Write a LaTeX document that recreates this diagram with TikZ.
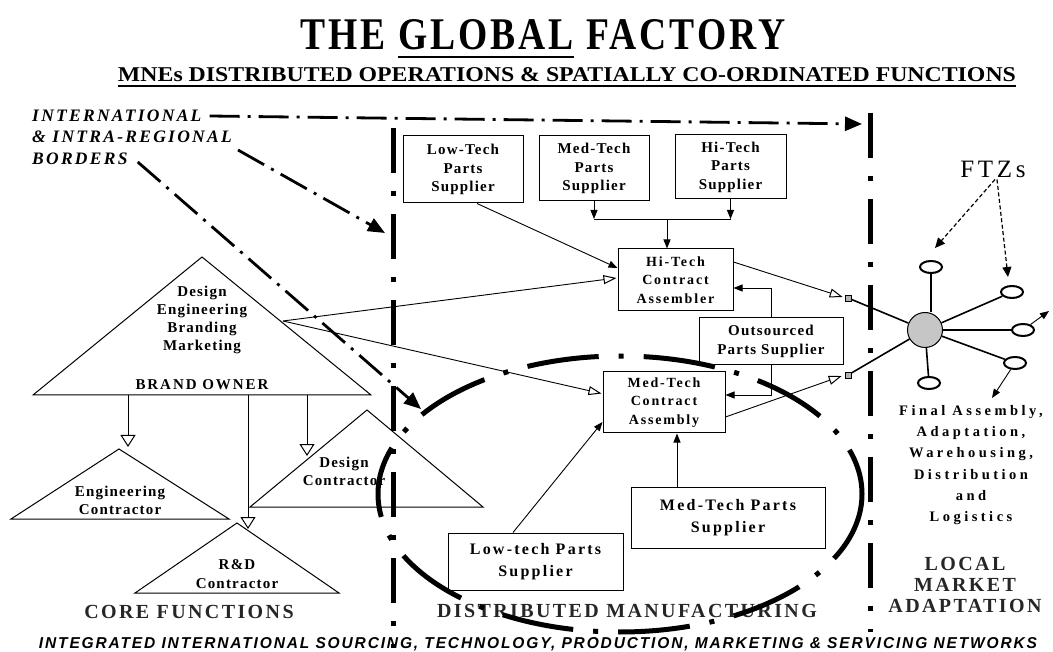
\documentclass[tikz,border=0pt]{standalone}
\usepackage{fontspec}
\setmainfont{Liberation Serif}
\newfontfamily\bxfont{Liberation Serif}[LetterSpace=8]
\newfontfamily\bxmfont{Liberation Serif}[LetterSpace=13]
\newfontfamily\bxLfont{Liberation Serif}[LetterSpace=14]
\newfontfamily\bxwidefont{Liberation Serif}[LetterSpace=24]
\newfontfamily\regfont{Liberation Serif}[LetterSpace=12]
\newfontfamily\itlfont{Liberation Serif}[LetterSpace=13]
\newfontfamily\titlefont{Liberation Serif}[LetterSpace=8]
\newfontfamily\ftzfont{Liberation Serif}[LetterSpace=15]
\newfontfamily\sansifont{Liberation Sans}[LetterSpace=12]
\usetikzlibrary{arrows.meta,shapes.geometric,calc}
\tikzset{
  pbox/.style={draw,line width=1pt,fill=white,align=center,inner sep=0pt,font=\bxfont\bfseries\fontsize{15}{18.5}\selectfont},
  pboxM/.style={pbox,font=\bxmfont\bfseries\fontsize{14}{18.3}\selectfont},
  pboxL/.style={pbox,font=\bxLfont\bfseries\fontsize{16}{22}\selectfont},
  tritext/.style={align=center,inner sep=0pt,font=\bxfont\bfseries\fontsize{15}{18.2}\selectfont},
  tri/.style={line width=1pt,line join=miter},
  border/.style={line width=5pt,dash pattern=on 45pt off 18pt on 5pt off 18pt},
  dd/.style={line width=2.8pt,dash pattern=on 30pt off 8pt on 3pt off 8pt},
  ddarrow/.style={dd,-{Triangle[length=17pt,width=14pt]}},
  conn/.style={line width=0.9pt,-{Triangle[length=9pt,width=7pt]}},
  oconn/.style={line width=0.9pt,-{Triangle[open,length=13pt,width=9pt,line width=1pt]}},
  bigoarrow/.style={line width=1pt,-{Triangle[open,length=12pt,width=15pt,line width=1pt]}},
  lolly/.style={ellipse,draw,line width=2pt,fill=white,minimum width=22pt,minimum height=12pt,inner sep=0pt},
  spoke/.style={line width=1.6pt},
  sq/.style={draw,line width=0.6pt,fill=gray!60,minimum size=6pt,inner sep=0pt},
  region/.style={inner sep=0pt,text=black!85,font=\regfont\bfseries\fontsize{20}{21}\selectfont,align=center},
  ellipseline/.style={line width=5pt,dash pattern=on 72pt off 20pt on 5pt off 20pt},
  bordlab/.style={anchor=base west,inner sep=0,font=\itlfont\bfseries\itshape\fontsize{17.5}{19}\selectfont}
}
\begin{document}
\begin{tikzpicture}[x=1pt,y=-1pt]
\useasboundingbox (0,0) rectangle (1053,652);

% Titles
\node[anchor=base,inner sep=0] (title) at (543,50) {\resizebox{485pt}{30pt}{\titlefont\bfseries THE \underline{GLOBAL} FACTORY}};
\node[anchor=base,inner sep=0] (sub) at (567,82) {\resizebox{898pt}{14pt}{\bfseries MNEs DISTRIBUTED OPERATIONS \& SPATIALLY CO-ORDINATED FUNCTIONS}};
\draw[line width=2pt] ($(sub.base west)+(0,4)$) -- ($(sub.base east)+(0,4)$);

% Borders labels
\node[bordlab] (lab1) at (32,122) {INTERNATIONAL};
\node[bordlab] (lab2) at (32,143) {\& INTRA-REGIONAL};
\node[bordlab] (lab3) at (32,165) {BORDERS};

% vertical borders
\coordinate (bl1) at (393,128);
\coordinate (bl2) at (393,648);
\coordinate (br1) at (870,113);
\coordinate (br2) at (870,632);
\draw[border] (bl1) -- (bl2);
\draw[border] (br1) -- (br2);

% Brand owner triangles
\draw[tri] (33,395) -- (371,395) -- (202,257) -- cycle;
\draw[tri] (11,519) -- (229,519) -- (119,449) -- cycle;
\draw[tri] (135,593) -- (339,593) -- (237,523) -- cycle;
\draw[tri] (250,507) -- (483,507) -- (367,410) -- cycle;
\node[tritext] (bo) at (202,320) {Design\\Engineering\\Branding\\Marketing};
\node[tritext,font=\bxmfont\bfseries\fontsize{15}{18}\selectfont] (bown) at (202,385) {BRAND OWNER};
\node[tritext] (eng) at (120,500) {Engineering\\Contractor};
\node[tritext] (rd) at (237,574) {R\&D\\Contractor};
\node[tritext] (des) at (344,471) {Design\\Contractor};

\coordinate (a1s) at (128,395); \coordinate (a1e) at (128,447);
\coordinate (a2s) at (248,395); \coordinate (a2e) at (248,529);
\coordinate (a3s) at (307,395); \coordinate (a3e) at (307,456);
\draw[bigoarrow] (a1s) -- (a1e);
\draw[bigoarrow] (a2s) -- (a2e);
\draw[bigoarrow] (a3s) -- (a3e);

% Boxes
\node[pbox,minimum width=120pt,minimum height=67pt] (ltps) at (463,169.5) {Low-Tech\\Parts\\Supplier};
\node[pbox,minimum width=110pt,minimum height=65pt] (mtps) at (594,168.5) {Med-Tech\\Parts\\Supplier};
\node[pbox,minimum width=111pt,minimum height=64pt] (htps) at (730.5,167) {Hi-Tech\\Parts\\Supplier};
\node[pboxM,minimum width=115pt,minimum height=62pt] (htca) at (675.5,280) {Hi-Tech\\Contract\\Assembler};
\node[pbox,minimum width=144pt,minimum height=47pt,font=\bxfont\bfseries\fontsize{15}{18.5}\selectfont] (ops) at (771,341.5) {Outsourced\\Parts Supplier};
\node[pboxM,minimum width=122pt,minimum height=61pt] (mtca) at (664,402.5) {Med-Tech\\Contract\\Assembly};
\node[pboxL,minimum width=194pt,minimum height=61pt] (mtps2) at (728,517.5) {Med-Tech Parts\\Supplier};
\node[pboxL,minimum width=175pt,minimum height=57pt] (ltps2) at (535.5,561.5) {Low-tech Parts\\Supplier};

% Connectors top
\coordinate (junc) at (667,219);
\draw[conn] (mtps.south) -- (mtps.south |- junc);
\draw[conn] (htps.south) -- (htps.south |- junc);
\draw[line width=0.9pt] (mtps.south |- junc) -- (htps.south |- junc);
\draw[conn] (junc) -- (junc |- htca.north);
\draw[conn] ($(ltps.south)+(14,0)$) -- ($(htca.west)+(0,-12)$);
\coordinate (bor) at (283,321);
\draw[oconn] (bor) -- ($(htca.west)+(-1,-2)$);
\draw[oconn] (bor) -- ($(mtca.west)+(-1,-9)$);
\draw[conn] (ops.north) |- ($(htca.east)+(0,8)$);
\draw[conn] (ops.south) |- ($(mtca.east)+(0,-7.5)$);
\draw[conn] ($(ltps2.north)+(-22.5,0)$) -- ($(mtca.west)+(0,19.5)$);
\coordinate (mtin) at ($(mtca.south)+(13,0)$);
\draw[conn] (mtps2.north -| mtin) -- (mtin);

% FTZ hub
\node[circle,draw,line width=1pt,fill=gray!45,minimum size=35pt,inner sep=0pt] (hub) at (925,330) {};
\node[sq] (s1) at (848,298) {};
\node[sq] (s2) at (848,375) {};
\draw[oconn] ($(htca.east)+(0,-18)$) -- ($(s1.west)+(-2,-1)$);
\draw[oconn] ($(mtca.east)+(0,14.5)$) -- ($(s2.west)+(-3,1)$);
\node[lolly] (l1) at (931,267) {};
\node[lolly] (l2) at (1012,292) {};
\node[lolly] (l3) at (1023,330) {};
\node[lolly] (l4) at (1015,363) {};
\node[lolly] (l5) at (929,383) {};
\draw[spoke] (s1) -- (hub);
\draw[spoke] (s2) -- (hub);
\draw[spoke] (l1.south) -- (l1.south |- hub.north);
\draw[spoke] (hub) -- (l2);
\draw[spoke] (hub) -- (l3);
\draw[spoke] (hub) -- (l4);
\draw[spoke] (hub) -- (l5);
\coordinate (o3) at (1049,311);
\coordinate (o4) at (992,398);
\draw[conn] (l3) -- (o3);
\draw[conn] (l4) -- (o4);
\node[inner sep=0pt,font=\ftzfont\fontsize{25}{27}\selectfont] (ftz) at (993,169) {FTZs};
\draw[line width=1.2pt,dash pattern=on 4pt off 2.5pt,-{Triangle[length=10pt,width=9pt]}] ($(ftz.south)+(2,2)$) -- ($(l1.north)+(4,-12)$);
\draw[line width=1.2pt,dash pattern=on 4pt off 2.5pt,-{Triangle[length=10pt,width=9pt]}] ($(ftz.south)+(4,2)$) -- ($(l2.north)+(-4,-8)$);

\node[inner sep=0pt,align=center,font=\bxwidefont\bfseries\fontsize{14.5}{21.2}\selectfont] (fin) at (971,465) {Final Assembly,\\Adaptation,\\Warehousing,\\Distribution\\and\\Logistics};

% Region labels
\node[region] (lma) at (965,585) {LOCAL\\MARKET\\ADAPTATION};
\node[region,anchor=base] (core) at (189,618) {CORE FUNCTIONS};
\node[region,anchor=base] (dm) at (627,617) {DISTRIBUTED MANUFACTURING};
\node[anchor=base,inner sep=0] (bottom) at (538,648) {\resizebox{998pt}{11pt}{\sansifont\bfseries\itshape INTEGRATED INTERNATIONAL SOURCING, TECHNOLOGY, PRODUCTION, MARKETING \& SERVICING NETWORKS}};

% dash-dot border arrows
\coordinate (t1) at (862,124);
\coordinate (t2) at (385,233);
\coordinate (t3) at (421,409);
\draw[ddarrow] ($(lab1.base east)+(8,-6)$) -- (t1);
\draw[ddarrow] ($(lab2.base east)+(6,7)$) -- (t2);
\draw[ddarrow] ($(lab3.base east)+(10,-3)$) -- (t3);

% distributed manufacturing ellipse
\coordinate (ec) at (620,494);
\draw[ellipseline] (ec) ellipse [x radius=242, y radius=138];
\end{tikzpicture}
\end{document}
